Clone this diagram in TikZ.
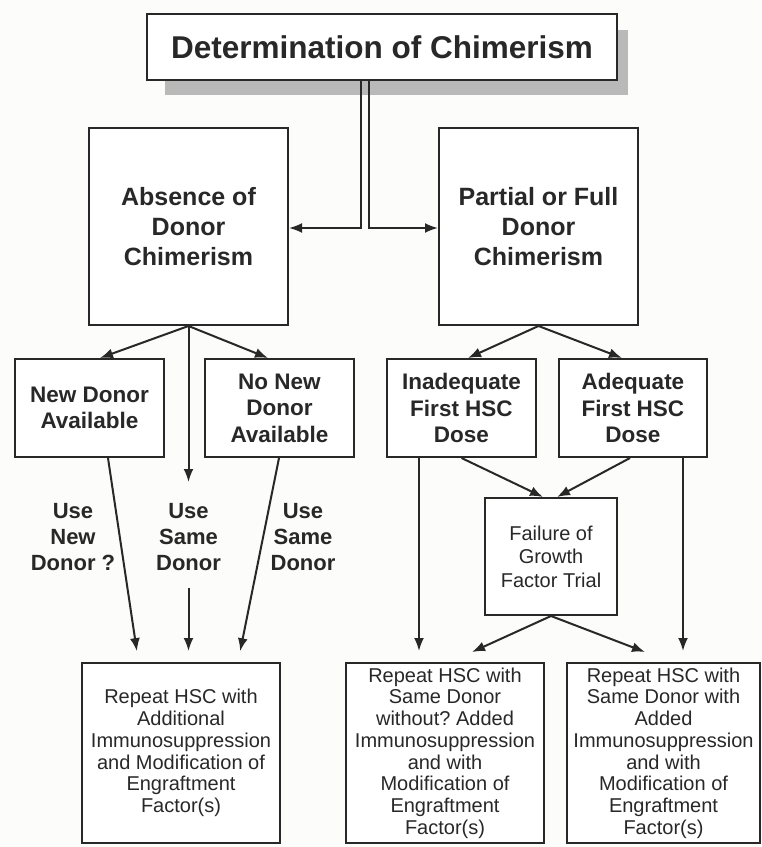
\documentclass[tikz,border=0pt]{standalone}
\usepackage{fontspec}
\setmainfont{Liberation Sans}
\usetikzlibrary{arrows.meta,calc}
\definecolor{bgc}{RGB}{252,252,250}
\definecolor{inkc}{RGB}{40,40,40}
\definecolor{shadowc}{RGB}{185,185,185}
\frenchspacing
\begin{document}
\begin{tikzpicture}[x=1pt,y=-1pt,
  box/.style={draw=inkc, line width=2pt, fill=white, inner sep=0pt, align=center, text=inkc},
  arr/.style={draw=inkc, line width=2pt, -{Latex[length=13pt,width=10pt]}},
  titlefont/.style={font=\fontsize{31.5}{36}\selectfont\bfseries},
  bigbold/.style={font=\fontsize{25}{30}\selectfont\bfseries},
  midbold/.style={font=\fontsize{22.5}{26.5}\selectfont\bfseries},
  lblfont/.style={font=\fontsize{22}{25.7}\selectfont\bfseries, text=inkc, align=center},
  smallfont/.style={font=\fontsize{20}{21.7}\selectfont},
]
\fill[bgc] (0,0) rectangle (762,847);
\useasboundingbox (0,0) rectangle (762,847);

% shadow of title
\fill[shadowc] (165,30) rectangle (628,95);

% nodes
\node[box, titlefont, minimum width=470pt, minimum height=66pt] (title) at (382,47) {Determination of Chimerism};
\node[box, bigbold, minimum width=199pt, minimum height=197pt] (absence) at (188.5,226.5) {Absence of\\Donor\\Chimerism};
\node[box, bigbold, minimum width=199pt, minimum height=197pt] (partial) at (538.5,226.5) {Partial or Full\\Donor\\Chimerism};
\node[box, midbold, minimum width=149pt, minimum height=98pt] (newdonor) at (89.5,408) {New Donor\\Available};
\node[box, midbold, minimum width=149pt, minimum height=98pt] (nonew) at (279.5,408) {No New\\Donor\\Available};
\node[box, midbold, minimum width=149pt, minimum height=98pt] (inadequate) at (461.5,408) {Inadequate\\First HSC\\Dose};
\node[box, midbold, minimum width=148pt, minimum height=98pt] (adequate) at (633,408) {Adequate\\First HSC\\Dose};
\node[box, font=\fontsize{20}{23.5}\selectfont, minimum width=132pt, minimum height=117pt] (failure) at (551,556.5) {Failure of\\Growth\\Factor Trial};
\node[box, smallfont, minimum width=198pt, minimum height=180pt] (rep1) at (181,753) {Repeat HSC with\\Additional\\Immunosuppression\\and Modification of\\Engraftment\\Factor(s)};
\node[box, smallfont, minimum width=198pt, minimum height=180pt] (rep2) at (445,753) {Repeat HSC with\\Same Donor\\without? Added\\Immunosuppression\\and with\\Modification of\\Engraftment\\Factor(s)};
\node[box, smallfont, minimum width=193pt, minimum height=180pt] (rep3) at (663.5,753) {Repeat HSC with\\Same Donor with\\Added\\Immunosuppression\\and with\\Modification of\\Engraftment\\Factor(s)};

% labels
\node[lblfont] (use1) at (73,537) {Use\\New\\Donor ?};
\node[lblfont] (use2) at (188.5,537) {Use\\Same\\Donor};
\node[lblfont] (use3) at (303,537) {Use\\Same\\Donor};

% coordinates
\coordinate (tl) at (361,80);
\coordinate (tr) at (369,80);
\coordinate (m1) at (188.5,482);
\coordinate (m2) at (188.5,588);
\coordinate (fl) at (472,652);
\coordinate (fr) at (645,652);

% title connectors
\draw[arr] (tl) |- (absence.east |- 0,228);
\draw[arr] (tr) |- (partial.west |- 0,228);

% left branch
\draw[arr] (absence.south) -- ([xshift=10.5pt]newdonor.north);
\draw[arr] (absence.south) -- ([xshift=-11.5pt]nonew.north);
\draw[arr] (absence.south) -- (m1);
\draw[arr, shorten >=11pt] ([xshift=18.5pt]newdonor.south) -- ([xshift=-42.5pt]rep1.north);
\draw[arr, shorten >=11pt] (m2) -- (rep1.north -| m2);
\draw[arr, shorten >=11pt] ([xshift=-0.5pt]nonew.south) -- ([xshift=57pt]rep1.north);

% right branch
\draw[arr] (partial.south) -- ([xshift=6.5pt]inadequate.north);
\draw[arr] (partial.south) -- ([xshift=-11pt]adequate.north);
\draw[arr] (inadequate.south) -- ([xshift=-8pt]failure.north);
\draw[arr] ([xshift=-3pt]adequate.south) -- ([xshift=6pt]failure.north);
\draw[arr, shorten >=11pt] ([xshift=-42.5pt]inadequate.south) -- ([xshift=-42.5pt]inadequate.south |- rep2.north);
\draw[arr, shorten >=11pt] ([xshift=50pt]adequate.south) -- ([xshift=50pt]adequate.south |- rep3.north);
\draw[arr] (failure.south) -- (fl);
\draw[arr] (failure.south) -- (fr);
\end{tikzpicture}
\end{document}
